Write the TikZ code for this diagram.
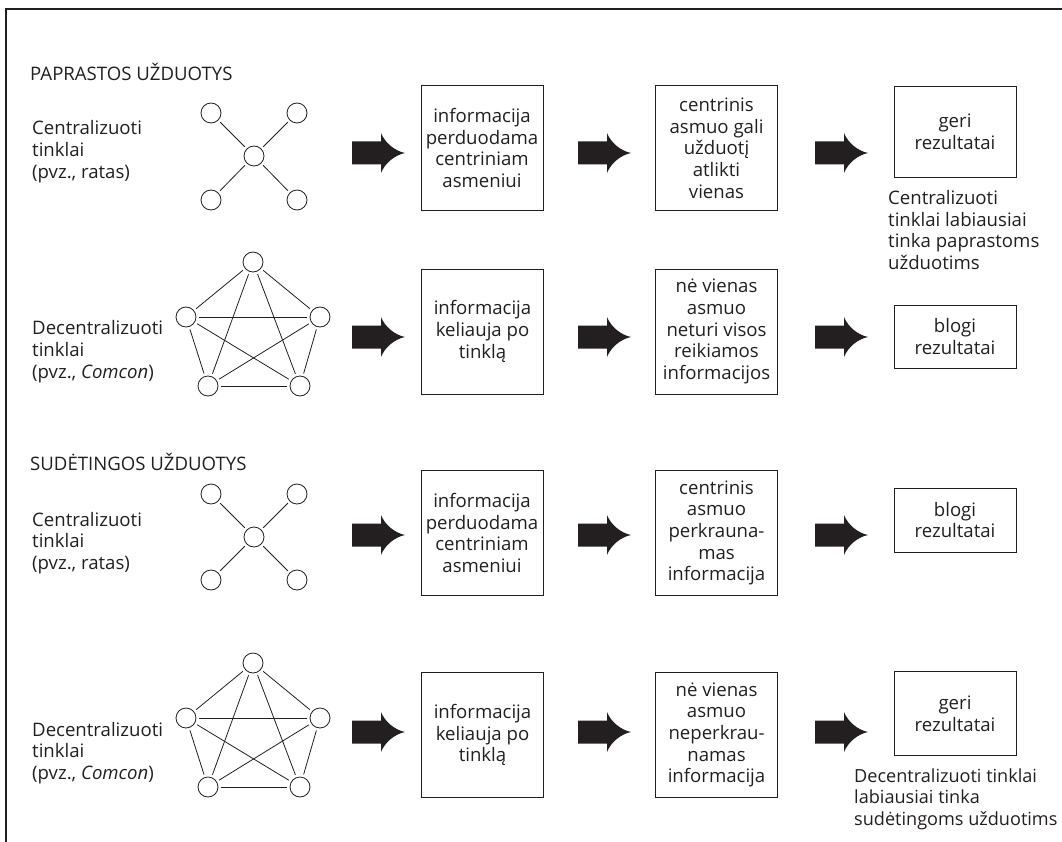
\documentclass[tikz,border=0pt]{standalone}
\usepackage{fontspec}
\setmainfont{Open Sans}
\definecolor{ink}{HTML}{231F20}
\begin{document}
\begin{tikzpicture}[x=1pt,y=-1pt,
  txt/.style={font=\fontsize{18.6}{21.7}\selectfont, text=ink},
  box/.style={txt, draw=ink, line width=0.9pt, align=center, inner sep=0pt, minimum width=122pt},
  lbl/.style={txt, align=left, anchor=west, inner sep=0pt},
  dot/.style={circle, draw=ink, line width=0.8pt, minimum size=20pt, inner sep=0pt, outer sep=3pt},
  edge/.style={draw=ink, line width=0.8pt},
  bigarrow/.pic={\fill[ink] (0,-11.5) -- (29,-11.5) -- (29,-20) .. controls (33,-10) and (43,-2) .. (53,0) .. controls (43,2) and (33,10) .. (29,20) -- (29,11.5) -- (0,11.5) -- cycle;}
]
\useasboundingbox (0,0) rectangle (1062,842);
% frame
\draw[ink, line width=1.5pt] (6,842) -- (6,9) -- (1062,9);

% ---------- Row 1 ----------
\node[lbl] (t1) at (30,72) {PAPRASTOS UŽDUOTYS};
\node[lbl] (l1) at (32,151.5) {Centralizuoti\\tinklai\\(pvz., ratas)};
\node[dot] (w1c) at (254,156) {};
\node[dot] (w1a) at (211,113) {};
\node[dot] (w1b) at (297,113) {};
\node[dot] (w1d) at (211,200) {};
\node[dot] (w1e) at (297,200) {};
\foreach \n in {w1a,w1b,w1d,w1e} \draw[edge] (w1c) -- (\n);
\pic (r1a) at (352,153) {bigarrow};
\node[box, minimum height=125pt] (a1) at (482,148) {informacija\\perduodama\\centriniam\\asmeniui};
\pic (r1b) at (578,153) {bigarrow};
\node[box, minimum height=125pt] (b1) at (716.5,148) {centrinis\\asmuo gali\\užduotį\\atlikti\\vienas};
\pic (r1c) at (815,153) {bigarrow};
\node[box, minimum height=91pt] (c1) at (955,131.5) {geri\\rezultatai};
\node[lbl] (n1) at (888,230) {Centralizuoti\\tinklai labiausiai\\tinka paprastoms\\užduotims};

% ---------- Row 2 ----------
\node[lbl] (l2) at (32,351.5) {Decentralizuoti\\tinklai\\(pvz., \textit{Comcon})};
\node[dot] (p2a) at (253,262) {};
\node[dot] (p2b) at (186,317) {};
\node[dot] (p2c) at (320,317) {};
\node[dot] (p2d) at (208,386) {};
\node[dot] (p2e) at (300,386) {};
\foreach \u/\v in {a/b,a/c,a/d,a/e,b/c,b/d,b/e,c/d,c/e,d/e} \draw[edge] (p2\u) -- (p2\v);
\pic (r2a) at (352,337) {bigarrow};
\node[box, minimum height=125pt] (a2) at (482.5,331.5) {informacija\\keliauja po\\tinklą};
\pic (r2b) at (578,337) {bigarrow};
\node[box, minimum height=125pt] (b2) at (716.5,331.5) {nė vienas\\asmuo\\neturi visos\\reikiamos\\informacijos};
\pic (r2c) at (815,337) {bigarrow};
\node[box, minimum height=63pt] (c2) at (955,336.5) {blogi\\rezultatai};

% ---------- Row 3 ----------
\node[lbl] (t3) at (30,462) {SUDĖTINGOS UŽDUOTYS};
\node[lbl] (l3) at (32,543) {Centralizuoti\\tinklai\\(pvz., ratas)};
\node[dot] (w3c) at (254,537) {};
\node[dot] (w3a) at (211,494) {};
\node[dot] (w3b) at (297,494) {};
\node[dot] (w3d) at (211,580) {};
\node[dot] (w3e) at (297,580) {};
\foreach \n in {w3a,w3b,w3d,w3e} \draw[edge] (w3c) -- (\n);
\pic (r3a) at (352,535) {bigarrow};
\node[box, minimum height=125pt] (a3) at (482,533) {informacija\\perduodama\\centriniam\\asmeniui};
\pic (r3b) at (578,535) {bigarrow};
\node[box, minimum height=125pt] (b3) at (716.5,533) {centrinis\\asmuo\\perkrauna-\\mas\\informacija};
\pic (r3c) at (815,535) {bigarrow};
\node[box, minimum height=64pt] (c3) at (955,520) {blogi\\rezultatai};

% ---------- Row 4 ----------
\node[lbl] (l4) at (32,753) {Decentralizuoti\\tinklai\\(pvz., \textit{Comcon})};
\node[dot] (p4a) at (253,663) {};
\node[dot] (p4b) at (186,718) {};
\node[dot] (p4c) at (320,718) {};
\node[dot] (p4d) at (208,787) {};
\node[dot] (p4e) at (300,787) {};
\foreach \u/\v in {a/b,a/c,a/d,a/e,b/c,b/d,b/e,c/d,c/e,d/e} \draw[edge] (p4\u) -- (p4\v);
\pic (r4a) at (352,732) {bigarrow};
\node[box, minimum height=125pt] (a4) at (482.5,735) {informacija\\keliauja po\\tinklą};
\pic (r4b) at (578,732) {bigarrow};
\node[box, minimum height=125pt] (b4) at (716.5,735) {nė vienas\\asmuo\\neperkrau-\\namas\\informacija};
\pic (r4c) at (815,732) {bigarrow};
\node[box, minimum height=84pt] (c4) at (955,713.5) {geri\\rezultatai};
\node[lbl, font=\fontsize{18.1}{21.5}\selectfont] (n4) at (854,799) {Decentralizuoti tinklai\\labiausiai tinka\\sudėtingoms užduotims};
\end{tikzpicture}
\end{document}
